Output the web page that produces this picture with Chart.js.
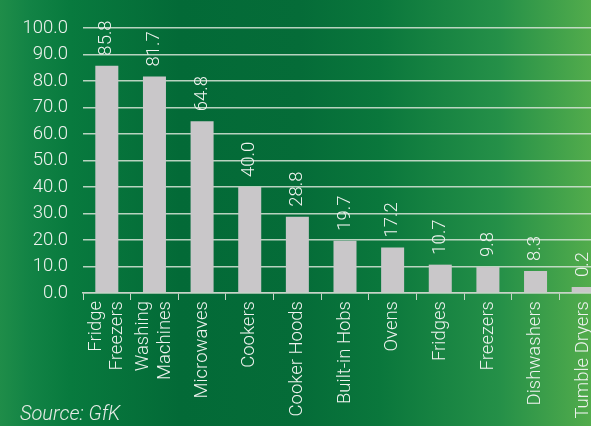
<!DOCTYPE html>
<html>
<head>
<meta charset="utf-8">
<script src="https://cdn.jsdelivr.net/npm/chart.js@4/dist/chart.umd.min.js"></script>
<style>
  html, body { margin: 0; padding: 0; }
  body {
    width: 591px; height: 426px; overflow: hidden; position: relative;
    background: linear-gradient(to right, #1f8d49 0px, #128345 30px, #087a3e 70px, #036a37 180px,
      #056c38 300px, #0a773c 380px, #259048 500px, #52ac4c 591px);
    font-family: Roboto, "Liberation Sans", Arial, sans-serif;
  }
  #wrap { position: absolute; left: 0; top: 0; width: 607px; height: 426px; }
  #source {
    position: absolute; left: 20px; top: 401px;
    font-style: italic; font-weight: 300; font-size: 20px; color: #e6ebe6;
  }
</style>
</head>
<body>
<div id="wrap"><canvas id="myChart" width="607" height="426"></canvas></div>
<div id="source">Source: GfK</div>
<script>
var categories = [
    ['Fridge', 'Freezers'], ['Washing', 'Machines'], 'Microwaves', 'Cookers', 'Cooker Hoods',
    'Built-in Hobs', 'Ovens', 'Fridges', 'Freezers', 'Dishwashers', 'Tumble Dryers'
];
var values = [85.8, 81.7, 64.8, 40.0, 28.8, 19.7, 17.2, 10.7, 9.8, 8.3, 0.2];
var yMin = 0, yMax = 100, yStep = 10;

var textColor = '#eef2ee';
var font = { family: 'Roboto, "Liberation Sans", Arial, sans-serif', size: 18.5, weight: '300' };
var fontCss = font.weight + ' ' + font.size + 'px ' + font.family;
var lineGap = 21.5;

// writes each value rotated above its bar
var valueLabels = {
    id: 'valueLabels',
    afterDatasetsDraw: function (chart) {
        var ctx = chart.ctx;
        var meta = chart.getDatasetMeta(0);
        ctx.save();
        ctx.fillStyle = textColor;
        ctx.font = fontCss;
        ctx.textAlign = 'left';
        ctx.textBaseline = 'middle';
        meta.data.forEach(function (bar, i) {
            ctx.save();
            ctx.translate(bar.x, bar.y - 10);
            ctx.rotate(-Math.PI / 2);
            ctx.fillText(values[i].toFixed(1), 0, 0);
            ctx.restore();
        });
        ctx.restore();
    }
};

// category names, rotated, with two-line names centred on the tick
var categoryLabels = {
    id: 'categoryLabels',
    afterDraw: function (chart) {
        var ctx = chart.ctx;
        var xs = chart.scales.x;
        ctx.save();
        ctx.fillStyle = textColor;
        ctx.font = fontCss;
        ctx.textAlign = 'right';
        ctx.textBaseline = 'middle';
        categories.forEach(function (label, i) {
            var lines = Array.isArray(label) ? label : [label];
            var cx = xs.getPixelForTick(i);
            lines.forEach(function (line, j) {
                var x = cx + (j - (lines.length - 1) / 2) * lineGap;
                ctx.save();
                ctx.translate(x, xs.top + 8);
                ctx.rotate(-Math.PI / 2);
                ctx.fillText(line, 0, 0);
                ctx.restore();
            });
        });
        ctx.restore();
    }
};

var element = document.getElementById('myChart').getContext('2d');

var chart = new Chart(element, {
    type: 'bar',
    data: {
        labels: categories,
        datasets: [{
            data: values,
            backgroundColor: '#c9c7c9',
            categoryPercentage: 1,
            barPercentage: 0.483,
            minBarLength: 6
        }]
    },
    options: {
        responsive: false,
        animation: false,
        devicePixelRatio: 1,
        layout: { padding: { top: 28, right: 0, left: 0, bottom: 0 } },
        plugins: { legend: { display: false }, tooltip: { enabled: false } },
        scales: {
            x: {
                offset: true,
                grid: { drawOnChartArea: false, drawTicks: true, tickLength: 7, color: '#c8d4c8', offset: true },
                border: { display: true, color: '#c8d4c8', width: 1.5 },
                ticks: { display: false },
                afterFit: function (scale) { scale.height = 133; }
            },
            y: {
                min: yMin, max: yMax,
                grid: { drawTicks: false, color: 'rgba(215,228,215,0.85)', lineWidth: 1.5 },
                border: { display: false },
                ticks: {
                    stepSize: yStep, color: textColor, font: font, padding: 15,
                    callback: function (v) { return v.toFixed(1); }
                },
                afterFit: function (scale) { scale.width = 83; }
            }
        }
    },
    plugins: [valueLabels, categoryLabels]
});
</script>
</body>
</html>
